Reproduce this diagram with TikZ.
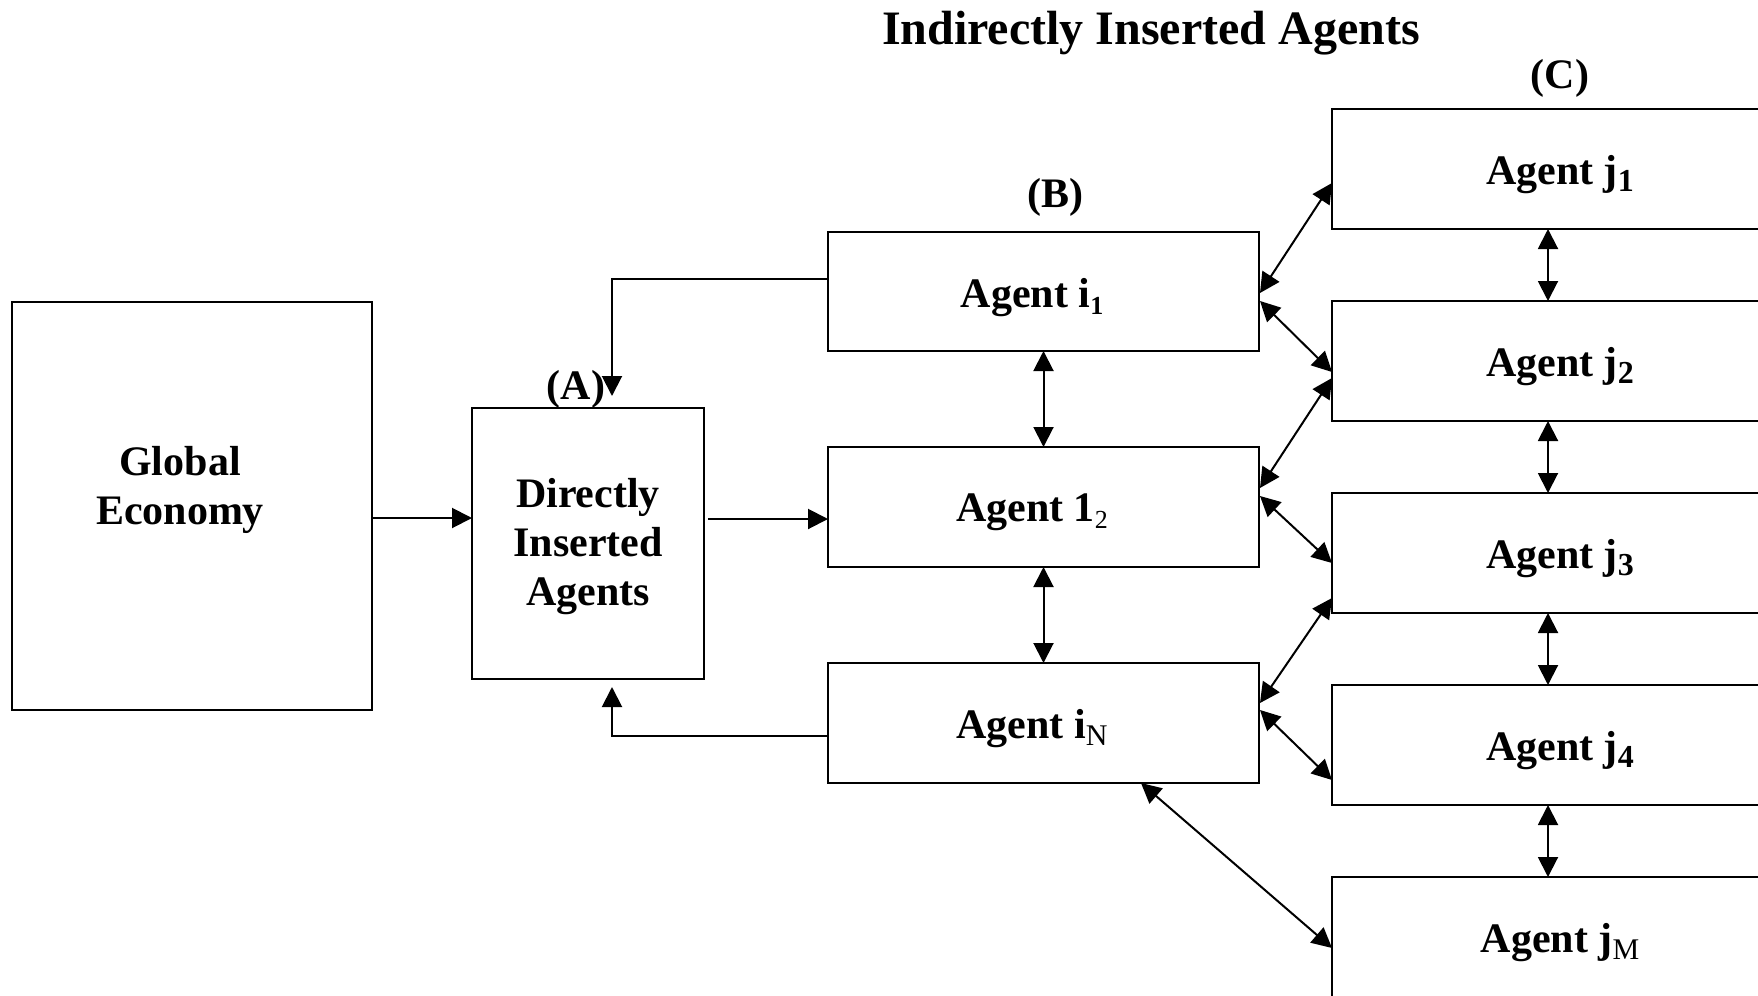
\documentclass[tikz,border=0pt]{standalone}
\usepackage{fontspec}
\setmainfont{Liberation Serif}
\usetikzlibrary{arrows.meta,calc}
\newcommand\sbb[2][13]{\raisebox{-3.5pt}{\fontsize{#1}{#1}\selectfont #2}}
\newcommand\sbm[2][13]{\raisebox{-3.5pt}{\fontsize{#1}{#1}\selectfont\mdseries #2}}
\tikzset{
  box/.style={draw, line width=1.1pt, inner sep=0pt, outer sep=0pt, rectangle},
  lbl/.style={font=\fontsize{21}{24.5}\selectfont\bfseries, inner sep=0pt, align=center},
  blbl/.style={lbl, yshift=-2.8pt},
  arr/.style={line width=1pt, -{Triangle[length=10pt,width=10pt]}},
  darr/.style={line width=1pt, {Triangle[length=10pt,width=10pt]}-{Triangle[length=10pt,width=10pt]}},
}
\begin{document}
\begin{tikzpicture}[x=0.5pt,y=-0.5pt]
\useasboundingbox (0,0) rectangle (1758,996);
\clip (0,0) rectangle (1758,996);
% boxes
\node[box, minimum width=180pt, minimum height=204pt] (GE) at (192,506) {};
\node[box, minimum width=116pt, minimum height=135.5pt] (DIA) at (588,543.5) {};
\node[box, minimum width=215.5pt, minimum height=59.5pt] (i1) at (1043.5,291.5) {};
\node[box, minimum width=215.5pt, minimum height=60pt] (a12) at (1043.5,507) {};
\node[box, minimum width=215.5pt, minimum height=60pt] (iN) at (1043.5,723) {};
\node[box, minimum width=228pt, minimum height=60pt] (j1) at (1560,169) {};
\node[box, minimum width=228pt, minimum height=60pt] (j2) at (1560,361) {};
\node[box, minimum width=228pt, minimum height=60pt] (j3) at (1560,553) {};
\node[box, minimum width=228pt, minimum height=60pt] (j4) at (1560,745) {};
\node[box, minimum width=228pt, minimum height=60pt] (jM) at (1560,937) {};
% texts
\node[lbl, font=\fontsize{24}{28}\selectfont\bfseries, anchor=base] (title) at (1151,44) {Indirectly Inserted Agents};
\node[lbl] (labC) at (1560,78) {(C)};
\node[lbl] (labB) at (1055,197) {(B)};
\node[lbl] (labA) at (576,389) {(A)};
\node[blbl] (tGE) at (180,484) {Global\\Economy};
\node[blbl] (tDIA) at (588,541) {Directly\\Inserted\\Agents};
\node[blbl] (ti1) at (1032,291.5) {Agent i\sbb{1}};
\node[blbl] (ta12) at (1032,507) {Agent 1\sbm{2}};
\node[blbl] (tiN) at (1032,723) {Agent i\sbm[15]{N}};
\node[blbl] (tj1) at (1560,169) {Agent j\sbb[16]{1}};
\node[blbl] (tj2) at (1560,361) {Agent j\sbb[16]{2}};
\node[blbl] (tj3) at (1560,553) {Agent j\sbb[16]{3}};
\node[blbl] (tj4) at (1560,745) {Agent j\sbb[16]{4}};
\node[blbl] (tjM) at (1560,937) {Agent j\sbm[15]{M}};
% connectors
\draw[arr] ($(GE.east)+(0,12)$) -- ($(DIA.west)+(0,-25.5)$);
\draw[arr] ($(DIA.east)+(4,-24.5)$) -- ($(a12.west)+(0,12)$);
\draw[arr] ($(i1.west)+(0,-12.5)$) -| ($(DIA.north)+(24,-12)$);
\draw[arr] ($(iN.west)+(0,13)$) -| ($(DIA.south)+(24,8)$);
\draw[darr] (i1.south) -- (a12.north);
\draw[darr] (a12.south) -- (iN.north);
\draw[darr] ($(j1.south)+(-12,0)$) -- ($(j2.north)+(-12,0)$);
\draw[darr] ($(j2.south)+(-12,0)$) -- ($(j3.north)+(-12,0)$);
\draw[darr] ($(j3.south)+(-12,0)$) -- ($(j4.north)+(-12,0)$);
\draw[darr] ($(j4.south)+(-12,0)$) -- ($(jM.north)+(-12,0)$);
\draw[darr] ($(i1.east)+(1,1.5)$) -- ($(j1.west)+(0,14)$);
\draw[darr] ($(i1.east)+(1,9.5)$) -- ($(j2.west)+(0,11)$);
\draw[darr] ($(a12.east)+(1,-19)$) -- ($(j2.west)+(0,17)$);
\draw[darr] ($(a12.east)+(1,-11)$) -- ($(j3.west)+(0,10)$);
\draw[darr] ($(iN.east)+(1,-20)$) -- ($(j3.west)+(0,45)$);
\draw[darr] ($(iN.east)+(1,-13)$) -- ($(j4.west)+(0,35)$);
\draw[darr] ($(iN.south)+(97.5,0)$) -- ($(jM.west)+(0,11)$);
\end{tikzpicture}
\end{document}
